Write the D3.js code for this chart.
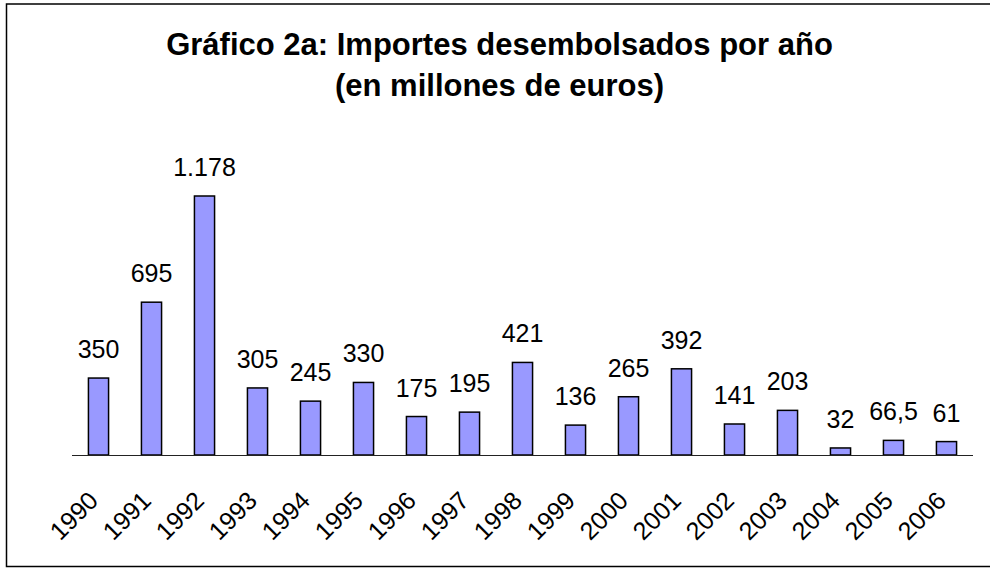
<!DOCTYPE html>
<html>
<head>
<meta charset="utf-8">
<script src="https://cdn.jsdelivr.net/npm/d3@7"></script>
<style>
  body { margin: 0; background: #fff; }
  svg { display: block; font-family: Arial, "Liberation Sans", sans-serif; }
</style>
</head>
<body>
<svg width="990" height="568"></svg>
<script>
const years = ["1990", "1991", "1992", "1993", "1994", "1995", "1996", "1997", "1998",
  "1999", "2000", "2001", "2002", "2003", "2004", "2005", "2006"];
const amounts = [350, 695, 1178, 305, 245, 330, 175, 195, 421, 136, 265, 392, 141, 203, 32, 66.5, 61];
const titleLines = ["Gráfico 2a: Importes desembolsados por año", "(en millones de euros)"];

const svg = d3.select("svg");
const width = +svg.attr("width");
const height = +svg.attr("height");

const data = years.map((y, i) => ({ year: y, value: amounts[i] }));

// spanish number format: 1.178 / 66,5
const es = d3.formatLocale({ decimal: ",", thousands: ".", grouping: [3], currency: ["", " €"] });
const fmt = es.format(",~f");

// frame (right edge runs off the picture)
svg.append("rect")
  .attr("x", 6.5)
  .attr("y", 4)
  .attr("width", 1000)
  .attr("height", 562.5)
  .attr("fill", "none")
  .attr("stroke", "#000")
  .attr("stroke-width", 1.5);

svg.selectAll(".title")
  .data(titleLines)
  .enter()
  .append("text")
  .attr("class", "title")
  .attr("x", 499.5)
  .attr("y", (d, i) => 55 + i * 41)
  .attr("text-anchor", "middle")
  .attr("font-size", 31)
  .attr("font-weight", "bold")
  .attr("fill", "#000")
  .text((d) => d);

const xScale = d3.scaleBand()
  .domain(years)
  .range([72, 973])
  .paddingInner(0.62)
  .paddingOuter(0.31);

const yScale = d3.scaleLinear()
  .domain([0, 1178])
  .range([455, 196]);

// bars
svg.selectAll(".bar")
  .data(data)
  .enter()
  .append("rect")
  .attr("class", "bar")
  .attr("x", (d) => xScale(d.year))
  .attr("y", (d) => yScale(d.value))
  .attr("width", xScale.bandwidth())
  .attr("height", (d) => yScale(0) - yScale(d.value))
  .attr("fill", "#9999ff")
  .attr("stroke", "#000")
  .attr("stroke-width", 1.5);

// base line
svg.append("line")
  .attr("x1", 72)
  .attr("x2", 973)
  .attr("y1", yScale(0) + 0.5)
  .attr("y2", yScale(0) + 0.5)
  .attr("stroke", "#222")
  .attr("stroke-width", 1.2);

// value labels
svg.selectAll(".val")
  .data(data)
  .enter()
  .append("text")
  .attr("class", "val")
  .attr("x", (d) => xScale(d.year) + xScale.bandwidth() / 2)
  .attr("y", (d) => yScale(d.value) - 20)
  .attr("text-anchor", "middle")
  .attr("font-size", 25)
  .attr("fill", "#000")
  .text((d) => fmt(d.value));

// rotated year labels
svg.selectAll(".yr")
  .data(years)
  .enter()
  .append("text")
  .attr("class", "yr")
  .attr("transform", (d) => `translate(${xScale(d) + xScale.bandwidth() / 2 - 5}, 496) rotate(-45)`)
  .attr("text-anchor", "end")
  .attr("dy", "0.35em")
  .attr("font-size", 25)
  .attr("fill", "#000")
  .text((d) => d);
</script>
</body>
</html>
